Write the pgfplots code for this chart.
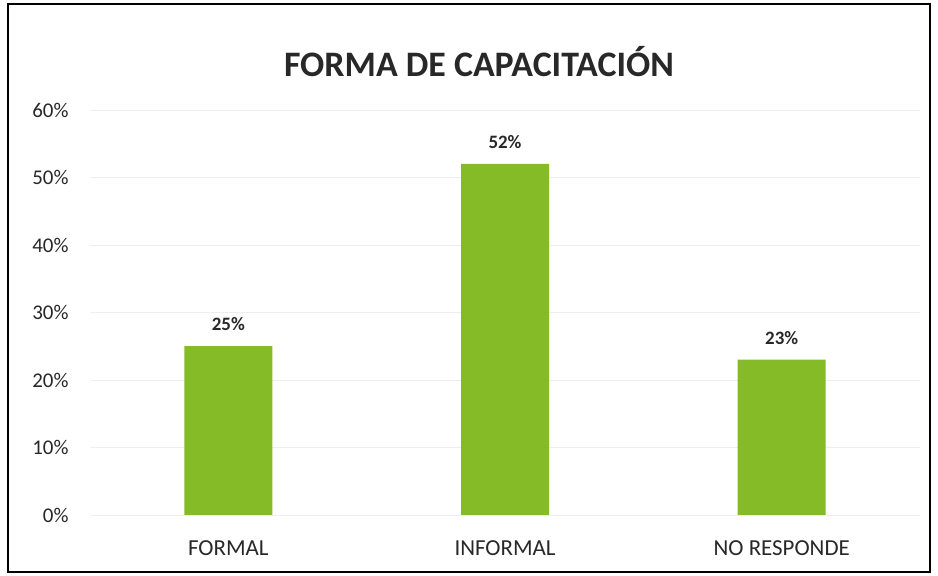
\documentclass[border=0pt]{standalone}
\usepackage{pgfplots}
\pgfplotsset{compat=1.18}
\usepackage{fontspec}
\setmainfont{Carlito}
\definecolor{bargreen}{RGB}{132,187,38}
\definecolor{txt}{RGB}{40,40,40}
\begin{document}
\begin{tikzpicture}[x=1bp,y=1bp]
\path[use as bounding box] (0,0) rectangle (938,576);
\fill[white] (0,0) rectangle (938,576);
\draw[black, line width=1.6bp] (8,4) rectangle (930,572);
\node[font=\bfseries\fontsize{36}{42}\selectfont, text=txt] at (479,514) {FORMA DE CAPACITACIÓN};
\begin{axis}[
  at={(90bp,61bp)}, anchor=south west,
  scale only axis, width=830bp, height=405bp,
  xmin=-0.5, xmax=2.5, ymin=0, ymax=60,
  axis line style={draw=none},
  tick style={draw=none},
  ytick={0,10,...,60},
  yticklabel={\pgfmathprintnumber{\tick}\%},
  yticklabel style={font=\fontsize{21}{24}\selectfont, text=txt, xshift=-18bp},
  /pgf/number format/assume math mode=true,
  ymajorgrids, grid style={gray!13, line width=0.8bp},
  xtick={0,1,2},
  xticklabels={FORMAL,INFORMAL,NO RESPONDE},
  xticklabel style={font=\fontsize{23}{27}\selectfont, text=txt, yshift=-18bp},
  ybar, bar width=88bp,
  nodes near coords={\pgfmathprintnumber{\pgfplotspointmeta}\%},
  nodes near coords style={font=\bfseries\fontsize{19}{22}\selectfont, text=txt, yshift=12bp},
]
\addplot[fill=bargreen, draw=none] coordinates {(0,25) (1,52) (2,23)};
\end{axis}
\end{tikzpicture}
\end{document}
